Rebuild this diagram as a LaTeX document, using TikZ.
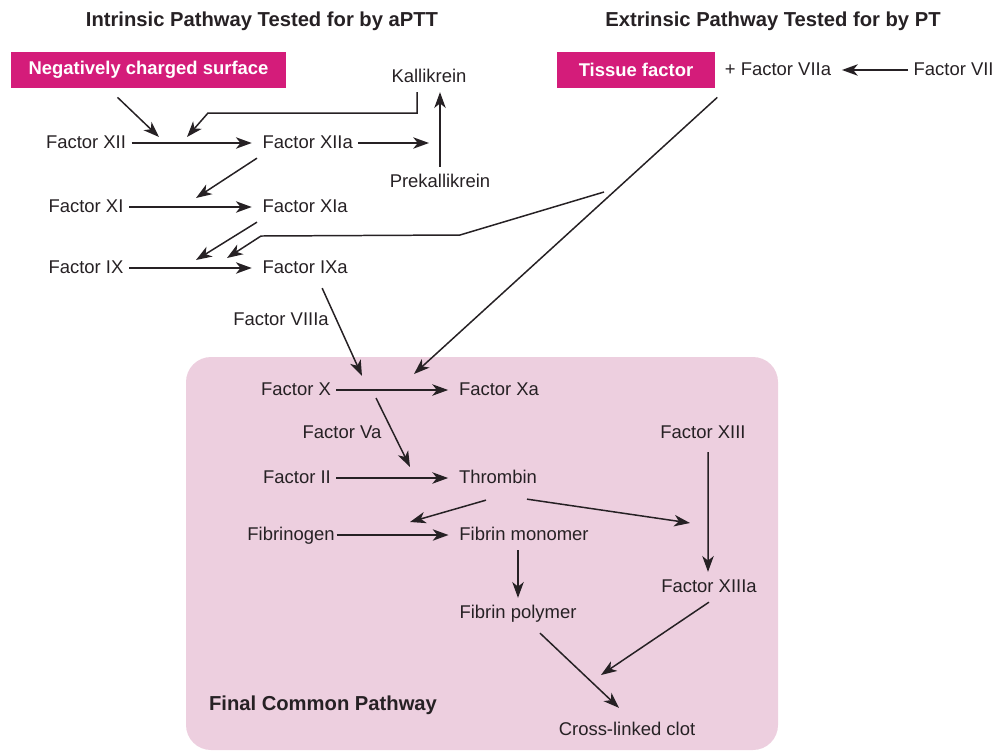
\documentclass[tikz,border=0pt]{standalone}
\usepackage{fontspec}
\setmainfont{Liberation Sans}
\usetikzlibrary{arrows.meta}

\definecolor{surfmag}{RGB}{212,28,122}
\definecolor{commonpink}{RGB}{237,207,223}
\definecolor{inktext}{RGB}{38,33,36}

\tikzset{
  fac/.style={inner sep=3pt, font=\fontsize{10.5}{12}\selectfont, text=inktext,
              text height=1.6ex, text depth=0.45ex},
  hdr/.style={inner sep=2pt, font=\fontsize{11.5}{13}\selectfont\bfseries, text=inktext},
  trigger/.style={fill=surfmag, text=white, font=\fontsize{10.5}{12}\selectfont\bfseries,
                  minimum height=0.72cm, inner sep=0pt},
  arr/.style={draw=inktext, line width=0.85pt, -{Stealth[length=9pt,width=6.5pt,inset=2.6pt]}},
  hor/.style={arr, shorten >=3pt},
}

\begin{document}
\begin{tikzpicture}[x=0.02cm, y=-0.02cm]
  \useasboundingbox (0,0) rectangle (1005,752);
  % final common pathway panel
  \fill[commonpink, rounded corners=0.5cm] (186,357) rectangle (778,750);

  % headings
  \node[hdr] (intr) at (262,21) {Intrinsic Pathway Tested for by aPTT};
  \node[hdr] (extr) at (773,21) {Extrinsic Pathway Tested for by PT};
  \node[hdr] (common) at (323,705) {Final Common Pathway};

  % intrinsic pathway
  \node[trigger, minimum width=5.5cm] (neg) at (148.5,70) {Negatively charged surface};
  \node[fac] (kal) at (429,77) {Kallikrein};
  \node[fac] (prek) at (440,182) {Prekallikrein};
  \foreach \n/\y in {XII/143, XI/207, IX/268} {
    \node[fac] (\n) at (86,\y) {Factor \n};
    \node[fac, anchor=west] (\n a) at (257,\y) {Factor \n a};
    \draw[hor] (\n) -- (\n a);
  }
  \node[fac] (VIIIa) at (281,320) {Factor VIIIa};

  % extrinsic pathway
  \node[trigger, minimum width=3.16cm] (tf) at (636,70) {Tissue factor};
  \node[fac] (VIIa) at (778,70) {+ Factor VIIa};
  \node[fac, anchor=west] (VII) at (908,70) {Factor VII};

  % common pathway
  \node[fac] (X) at (296,390) {Factor X};
  \node[fac] (Xa) at (499,390) {Factor Xa};
  \node[fac] (Va) at (342,433) {Factor Va};
  \node[fac] (II) at (297,478) {Factor II};
  \node[fac] (thr) at (498,478) {Thrombin};
  \node[fac, inner sep=1pt] (fbg) at (291,535) {Fibrinogen};
  \node[fac] (mono) at (524,535) {Fibrin monomer};
  \node[fac] (poly) at (518,613) {Fibrin polymer};
  \node[fac] (XIII) at (703,433) {Factor XIII};
  \node[fac] (XIIIa) at (709,587) {Factor XIIIa};
  \node[fac] (clot) at (627,730) {Cross-linked clot};

  % points where arrows meet a reaction
  \coordinate (j12a) at (159,137);
  \coordinate (j12b) at (187,137);
  \coordinate (kjoin) at (429,143);
  \coordinate (j11) at (196,198);
  \coordinate (j9a) at (196,260);
  \coordinate (j9b) at (227,258);
  \coordinate (tfbranch) at (604,192);
  \coordinate (j10a) at (362,376);
  \coordinate (j10b) at (414,374);
  \coordinate (j10c) at (376,398);
  \coordinate (jII) at (410,467);
  \coordinate (jfib) at (410,522);
  \coordinate (j13) at (690,523);
  \coordinate (jclot) at (601,675);

  % intrinsic arrows
  \draw[arr] (neg.south) ++(-31,9) -- (j12a);
  \draw[arr] ([xshift=-0.24cm]kal.south) |- (208,113) -- (j12b);
  \draw[arr] (XIIa) -- (kjoin);
  \draw[arr] (prek) -- (prek |- kal.south);
  \draw[arr] (XIIa.south west) -- (j11);
  \draw[arr] (XIa.south west) -- (j9a);
  \draw[arr] (IXa.south) ++(17,5) -- (j10a);

  % extrinsic arrows
  \draw[hor] (VII) -- (VIIa);
  \draw[arr] (tf.south east) ++(2,9) -- (j10b);
  \draw[arr] (tfbranch) -- (460,235) -- (261,236) -- (j9b);

  % common pathway arrows
  \draw[hor] (X) -- (Xa);
  \draw[arr] (j10c) -- (jII);
  \draw[hor] (II) -- (thr);
  \draw[arr] (thr.south) ++(-12,7) -- (jfib);
  \draw[arr] (thr.south) ++(29,6) -- (j13);
  \draw[hor] (fbg) -- (mono);
  \draw[arr] (mono.south -| poly.north) -- (poly.north);
  \draw[arr] (XIII.south) ++(5,4) -- ([xshift=0.1cm]XIII.south |- XIIIa.north);
  \draw[arr] (XIIIa.south) -- (jclot);
  \draw[arr] (poly.south) ++(22,5) -- ([shift={(-8,-7)}]clot.north);
\end{tikzpicture}
\end{document}
